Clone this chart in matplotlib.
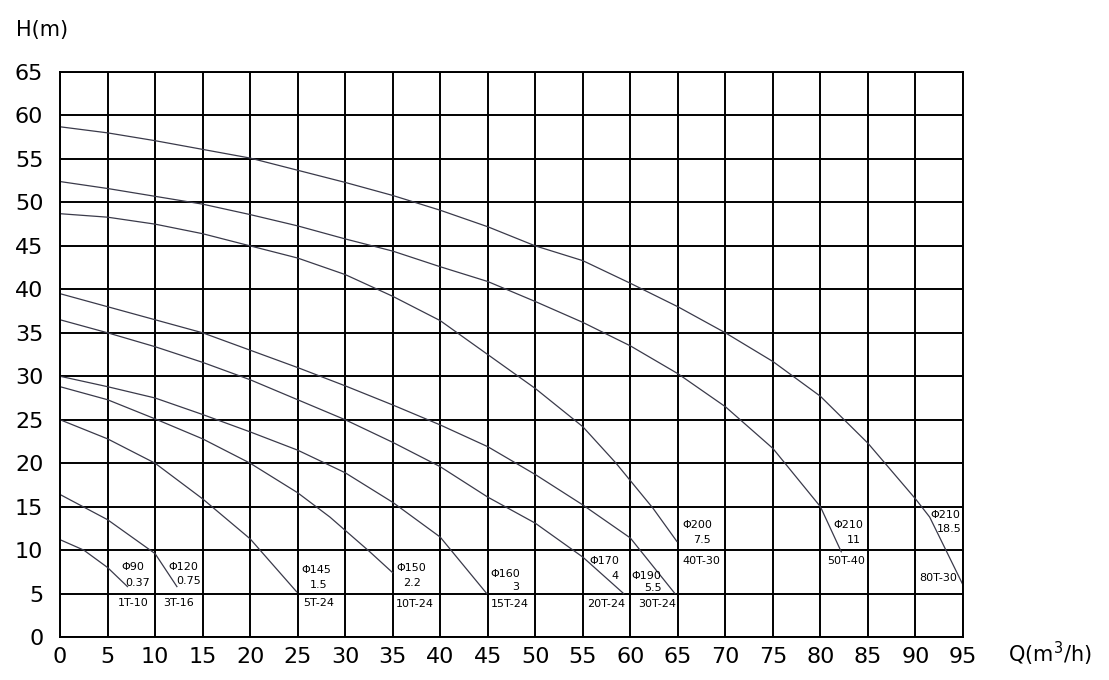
import matplotlib
matplotlib.use("Agg")
import matplotlib.pyplot as plt

# ---- data ----
x_ticks = [0, 5, 10, 15, 20, 25, 30, 35, 40, 45, 50, 55, 60, 65, 70, 75, 80, 85, 90, 95]
y_ticks = [0, 5, 10, 15, 20, 25, 30, 35, 40, 45, 50, 55, 60, 65]

q_1t10 = [0, 2.5, 5, 7.1]
h_1t10 = [11.2, 10.0, 8.0, 5.8]

q_3t16 = [0, 5, 10, 12.3]
h_3t16 = [16.4, 13.5, 9.6, 5.8]

q_5t24 = [0, 5, 10, 15, 20, 24.9]
h_5t24 = [25.0, 22.8, 20.0, 15.9, 11.3, 5.2]

q_10t24 = [0, 5, 10, 15, 20, 25, 28.4, 32.6, 35.0]
h_10t24 = [28.8, 27.3, 25.1, 22.8, 20.0, 16.6, 13.8, 9.8, 7.4]

q_15t24 = [0, 5, 10, 15, 20, 25, 30, 35, 40, 44.9]
h_15t24 = [30.0, 28.8, 27.5, 25.6, 23.6, 21.5, 18.9, 15.5, 11.5, 5.0]

q_20t24 = [0, 5, 10, 15, 20, 25, 30, 35, 40, 45, 50, 55, 59.3]
h_20t24 = [36.5, 35.0, 33.4, 31.6, 29.6, 27.3, 25.0, 22.4, 19.6, 16.1, 13.1, 9.2, 5.0]

q_30t24 = [0, 5, 10, 15, 20, 25, 30, 35, 40, 45, 50, 55, 60, 64.7]
h_30t24 = [39.5, 38.0, 36.5, 35.0, 33.0, 31.0, 28.9, 26.7, 24.4, 21.9, 18.7, 15.2, 11.4, 5.0]

q_40t30 = [0, 5, 10, 15, 20, 25, 30, 35, 40, 45, 50, 55, 58.5, 60, 62.4, 64.9]
h_40t30 = [48.7, 48.3, 47.5, 46.4, 45.0, 43.6, 41.7, 39.2, 36.4, 32.5, 28.6, 24.2, 20.0, 18.0, 14.8, 11.0]

q_50t40 = [0, 5, 10, 15, 20, 25, 30, 35, 40, 45, 50, 55, 60, 65, 70, 75, 80, 82.2]
h_50t40 = [52.4, 51.6, 50.7, 49.8, 48.6, 47.3, 45.8, 44.4, 42.6, 40.9, 38.6, 36.2, 33.5, 30.3, 26.5, 21.7, 15.0, 9.8]

q_80t30 = [0, 5, 10, 15, 20, 25, 30, 35, 40, 45, 50, 55, 60, 65, 70, 75, 80, 85, 90, 91.5, 95]
h_80t30 = [58.7, 58.0, 57.1, 56.1, 55.1, 53.7, 52.3, 50.8, 49.1, 47.2, 45.0, 43.3, 40.7, 38.0, 35.0, 31.7, 27.7, 22.3, 15.9, 13.8, 6.0]

curves = [(q_1t10, h_1t10), (q_3t16, h_3t16), (q_5t24, h_5t24), (q_10t24, h_10t24),
          (q_15t24, h_15t24), (q_20t24, h_20t24), (q_30t24, h_30t24), (q_40t30, h_40t30),
          (q_50t40, h_50t40), (q_80t30, h_80t30)]

# labels: impeller diameter, power, model
impellers = ["Φ90", "Φ120", "Φ145", "Φ150", "Φ160", "Φ170", "Φ190", "Φ200", "Φ210", "Φ210"]
powers = ["0.37", "0.75", "1.5", "2.2", "3", "4", "5.5", "7.5", "11", "18.5"]
models = ["1T-10", "3T-16", "5T-24", "10T-24", "15T-24", "20T-24", "30T-24", "40T-30", "50T-40", "80T-30"]
imp_pos = [(7.7, 8.1), (13.0, 8.1), (27.0, 7.7), (37.0, 7.9), (46.8, 7.3), (57.3, 8.7),
           (61.7, 7.0), (67.0, 12.9), (82.9, 12.9), (93.1, 14.0)]
pow_pos = [(8.2, 6.2), (13.5, 6.4), (27.2, 6.0), (37.0, 6.2), (47.9, 5.8), (58.4, 7.0),
           (62.4, 5.6), (67.5, 11.2), (83.5, 11.2), (93.6, 12.4)]
mod_pos = [(7.7, 3.9), (12.5, 3.9), (27.2, 3.9), (37.3, 3.8), (47.3, 3.8), (57.5, 3.8),
           (62.8, 3.8), (67.5, 8.7), (82.7, 8.7), (92.4, 6.75)]

# ---- figure ----
fig = plt.figure(figsize=(11.09, 6.8), dpi=100)
ax = fig.add_axes([0.0541, 0.0632, 0.8142, 0.8309])
ax.set_xlim(0, 95)
ax.set_ylim(0, 65)
ax.set_xticks(x_ticks)
ax.set_yticks(y_ticks)
ax.set_xticklabels([str(v) for v in x_ticks], fontsize=16)
ax.set_yticklabels([str(v) for v in y_ticks], fontsize=16)
ax.tick_params(axis="y", length=0, pad=12)
ax.tick_params(axis="x", length=0, pad=7)
ax.grid(True, color="black", linewidth=1.4)
ax.set_axisbelow(True)
for s in ax.spines.values():
    s.set_color("black")
    s.set_linewidth(1.4)

for q, h in curves:
    ax.plot(q, h, color="#3a3a4a", linewidth=0.9)

for t, (x, y) in zip(impellers, imp_pos):
    ax.text(x, y, t, fontsize=8, ha="center", va="center")
for t, (x, y) in zip(powers, pow_pos):
    ax.text(x, y, t, fontsize=8, ha="center", va="center")
for t, (x, y) in zip(models, mod_pos):
    ax.text(x, y, t, fontsize=8, ha="center", va="center")

fig.text(42 / 1109, 1 - 30 / 680, "H(m)", fontsize=15, ha="center", va="center")
fig.text(1050 / 1109, 1 - 654 / 680, "Q(m$^3$/h)", fontsize=15, ha="center", va="center")

fig.savefig("out.png", dpi=100, facecolor="white")
